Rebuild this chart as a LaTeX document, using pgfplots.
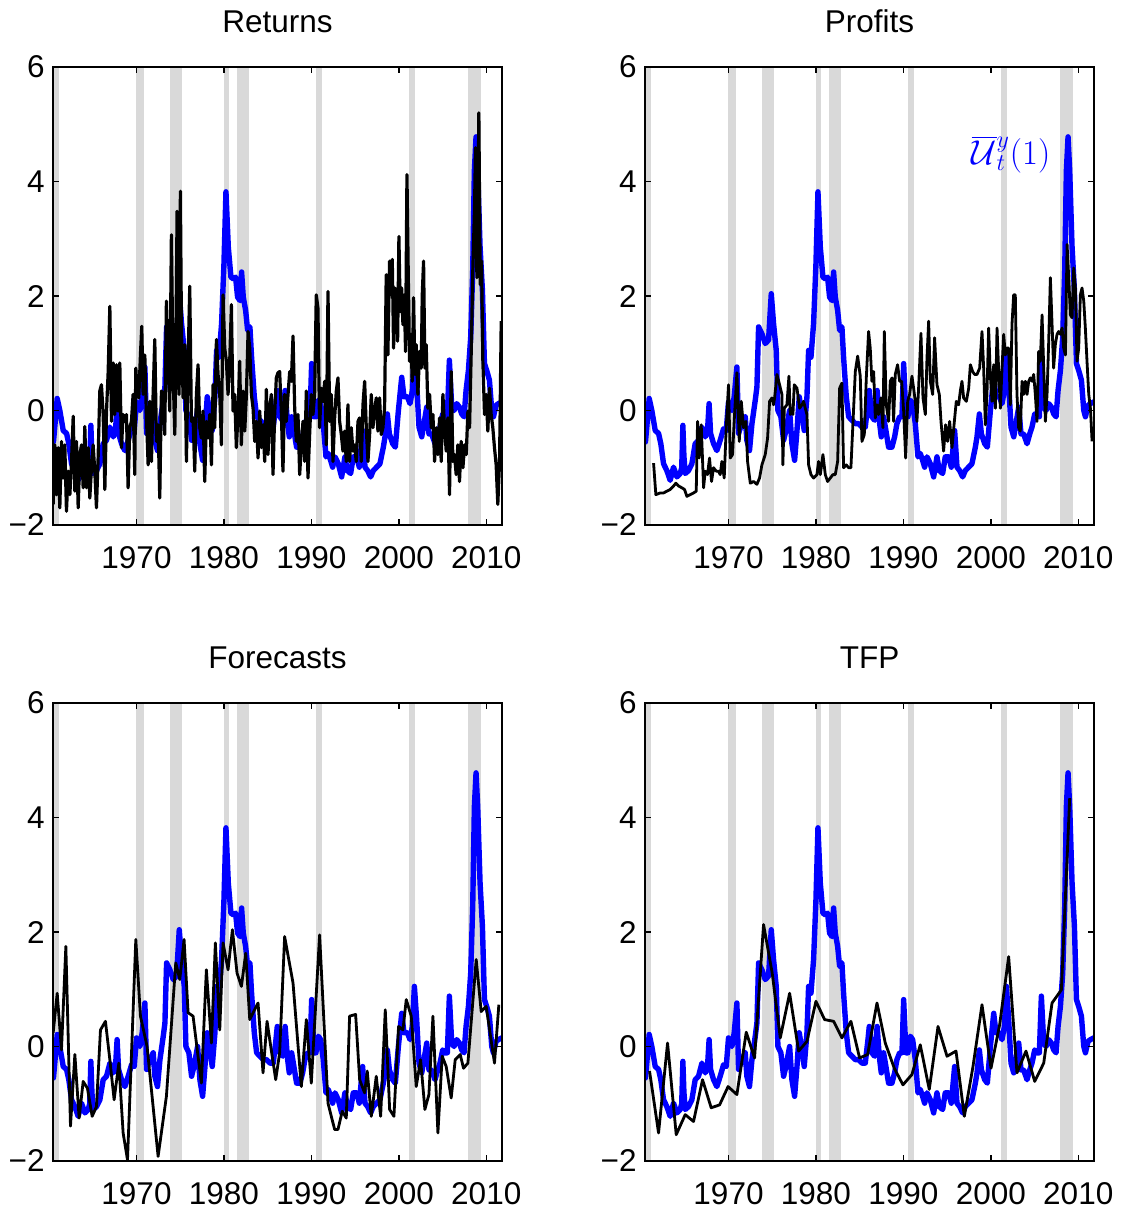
\documentclass[border=0pt]{standalone}
\usepackage{fontspec}
\setmainfont{Liberation Sans}
\usepackage{pgfplots}
\usepackage{pgfplotstable}
\pgfplotsset{compat=1.18}
\definecolor{bandgray}{RGB}{217,217,217}
\definecolor{ublue}{RGB}{0,0,255}

\pgfplotstableread{
x y
1960.50 -0.55
1960.59 -0.40
1960.93 0.21
1961.23 0.00
1961.62 -0.35
1962.00 -0.40
1962.26 -0.58
1962.57 -0.93
1962.95 -1.05
1963.33 -1.22
1963.71 -0.99
1964.10 -1.16
1964.48 -1.10
1964.65 -1.00
1964.78 -0.26
1964.90 -0.80
1965.05 -1.10
1965.43 -1.05
1965.81 -0.93
1966.19 -0.58
1966.57 -0.52
1966.96 -0.29
1967.34 -0.46
1967.60 -0.35
1967.78 0.12
1967.95 -0.40
1968.29 -0.58
1968.67 -0.70
1969.05 -0.52
1969.43 -0.32
1969.74 -0.35
1970.00 0.15
1970.39 0.00
1970.65 0.24
1970.96 0.76
1971.15 -0.40
1971.53 -0.23
1971.91 -0.11
1972.10 -0.52
1972.40 -0.70
1972.68 -0.23
1973.06 0.18
1973.25 0.41
1973.44 1.46
1973.82 1.34
1974.20 1.17
1974.58 1.23
1974.89 2.04
1975.15 1.52
1975.46 1.05
1975.65 0.00
1975.99 -0.11
1976.30 -0.52
1976.57 -0.35
1976.99 0.00
1977.25 -0.58
1977.56 -0.87
1977.83 -0.35
1978.09 0.24
1978.40 -0.06
1978.66 -0.35
1978.97 0.24
1979.16 1.05
1979.43 0.93
1979.73 1.52
1980.00 2.56
1980.23 3.82
1980.50 2.85
1980.80 2.33
1981.07 2.30
1981.33 2.33
1981.56 1.98
1981.83 1.92
1982.02 2.42
1982.21 1.98
1982.48 1.75
1982.71 1.40
1982.97 1.46
1983.16 0.93
1983.47 0.24
1983.74 -0.11
1984.12 -0.17
1984.50 -0.23
1984.88 -0.23
1985.26 -0.29
1985.64 -0.29
1985.95 0.12
1986.10 0.35
1986.40 -0.11
1986.70 -0.17
1987.00 0.35
1987.24 -0.17
1987.47 -0.46
1987.74 -0.11
1988.00 -0.35
1988.31 -0.64
1988.69 -0.64
1989.00 -0.46
1989.26 -0.23
1989.57 -0.11
1989.84 -0.11
1990.03 0.82
1990.29 -0.11
1990.52 -0.11
1990.79 0.18
1991.06 0.12
1991.36 -0.23
1991.67 -0.81
1991.93 -0.75
1992.20 -0.87
1992.43 -0.99
1992.70 -0.81
1993.08 -0.93
1993.46 -1.16
1993.84 -0.81
1994.11 -1.05
1994.49 -1.10
1994.79 -0.81
1995.18 -0.81
1995.48 -0.99
1995.86 -0.35
1996.13 -0.99
1996.43 -1.05
1996.78 -1.16
1997.08 -1.05
1997.46 -0.99
1997.84 -0.93
1998.23 -0.64
1998.42 -0.46
1998.69 -0.06
1998.92 -0.41
1999.30 -0.58
1999.60 -0.64
1999.95 0.00
2000.33 0.58
2000.59 0.24
2000.98 0.24
2001.28 0.12
2001.55 0.35
2001.78 1.05
2002.04 0.47
2002.31 -0.29
2002.62 -0.46
2002.88 -0.23
2003.19 0.06
2003.45 -0.41
2003.76 -0.41
2004.14 -0.58
2004.45 -0.41
2004.71 -0.29
2005.02 -0.06
2005.29 -0.11
2005.55 -0.11
2005.78 0.88
2006.05 0.06
2006.31 0.00
2006.62 0.12
2006.93 0.06
2007.19 -0.06
2007.46 -0.11
2007.69 0.35
2007.96 0.70
2008.22 1.28
2008.45 2.45
2008.64 4.19
2008.83 4.78
2009.02 4.19
2009.29 2.86
2009.56 2.10
2009.79 0.82
2010.05 0.70
2010.36 0.53
2010.63 0.00
2010.82 -0.11
2011.12 0.09
2011.39 0.12
2011.77 0.15
}\bluedata

\pgfplotstableread{
x y
1960.47 -1.64
1960.66 -0.60
1960.85 -1.47
1961.04 -0.65
1961.23 -1.70
1961.42 -0.54
1961.61 -1.18
1961.80 -0.60
1961.99 -1.76
1962.19 -1.06
1962.38 -1.47
1962.57 -0.89
1962.76 -0.10
1962.95 -1.41
1963.14 -0.54
1963.33 -1.70
1963.52 -0.77
1963.71 -0.60
1963.90 -1.35
1964.09 -0.28
1964.28 -1.35
1964.47 -0.65
1964.66 -1.53
1964.85 -1.00
1965.04 -0.60
1965.23 -1.06
1965.42 -1.70
1965.61 -0.83
1965.80 0.34
1965.99 0.45
1966.19 -0.07
1966.38 -1.38
1966.57 -0.01
1966.76 0.68
1966.95 1.82
1967.14 -0.19
1967.33 0.83
1967.52 -0.07
1967.71 0.80
1967.90 -0.01
1968.09 0.83
1968.28 -0.65
1968.47 -0.07
1968.66 -0.19
1968.85 -0.07
1969.04 -1.35
1969.23 -0.30
1969.42 -0.19
1969.61 0.28
1969.80 -1.12
1969.92 0.74
1970.07 0.34
1970.26 0.22
1970.45 0.97
1970.60 1.47
1970.76 0.28
1970.95 0.97
1971.14 -0.13
1971.33 -0.95
1971.52 0.16
1971.71 -0.89
1971.90 0.28
1972.09 1.24
1972.28 -0.54
1972.47 -0.25
1972.66 -1.53
1972.85 0.34
1973.04 0.28
1973.23 -0.42
1973.42 1.91
1973.61 0.86
1973.80 -0.01
1973.99 3.07
1974.18 0.68
1974.38 -0.42
1974.49 0.86
1974.64 3.48
1974.76 0.63
1974.87 0.28
1975.02 3.83
1975.14 1.38
1975.33 0.22
1975.52 1.15
1975.71 -0.89
1975.90 0.86
1976.09 2.17
1976.28 -0.19
1976.47 -0.13
1976.66 -1.06
1976.85 0.28
1977.04 0.80
1977.23 -0.30
1977.42 -0.48
1977.61 -0.01
1977.80 -1.24
1977.99 -0.19
1978.19 -0.48
1978.38 -0.07
1978.57 -0.95
1978.76 0.45
1978.95 -0.30
1979.14 1.24
1979.33 0.63
1979.52 0.28
1979.71 -0.60
1979.90 2.02
1980.09 1.09
1980.28 0.86
1980.47 0.28
1980.66 0.86
1980.85 1.85
1981.04 -0.01
1981.23 0.28
1981.42 -0.65
1981.61 -0.07
1981.80 0.86
1981.99 -0.60
1982.19 0.34
1982.38 -0.36
1982.57 0.28
1982.76 1.38
1982.95 1.09
1983.14 0.28
1983.33 0.04
1983.52 -0.54
1983.71 -0.19
1983.90 -0.83
1984.09 -0.01
1984.28 -0.65
1984.47 -0.25
1984.66 -0.89
1984.85 0.37
1985.04 -0.77
1985.23 0.04
1985.42 0.28
1985.61 -1.12
1985.80 -0.07
1985.99 0.57
1986.18 0.66
1986.37 0.68
1986.56 -0.01
1986.75 -1.06
1986.94 0.28
1987.13 -0.19
1987.33 0.28
1987.52 0.68
1987.71 0.51
1987.90 1.30
1988.09 0.04
1988.28 -0.54
1988.47 -0.07
1988.66 -1.12
1988.85 -0.60
1989.04 -0.19
1989.23 -0.89
1989.42 0.34
1989.61 -1.18
1989.80 -0.42
1989.99 0.28
1990.18 -0.07
1990.37 0.28
1990.56 2.02
1990.75 1.79
1990.94 -0.30
1991.13 0.39
1991.33 0.16
1991.52 0.51
1991.71 -0.60
1991.90 2.08
1992.09 -0.19
1992.28 0.28
1992.47 -0.89
1992.66 -0.13
1992.85 0.34
1993.04 0.57
1993.23 -0.19
1993.42 -0.42
1993.61 -0.71
1993.80 -0.36
1993.99 -0.89
1994.18 0.10
1994.37 -0.89
1994.56 -0.30
1994.75 -0.71
1994.94 -0.60
1995.13 -0.89
1995.33 -0.19
1995.52 -0.13
1995.71 -0.89
1995.90 0.10
1996.09 0.51
1996.28 -0.30
1996.47 -0.89
1996.66 -0.42
1996.85 0.28
1997.04 -0.30
1997.23 -0.01
1997.42 0.22
1997.61 -0.36
1997.80 0.22
1997.99 -0.42
1998.18 -0.30
1998.37 0.04
1998.56 2.37
1998.75 0.97
1998.94 2.61
1999.13 2.02
1999.25 2.64
1999.40 1.09
1999.55 2.14
1999.71 1.85
1999.86 1.21
2000.01 3.04
2000.16 1.73
2000.32 2.14
2000.47 1.50
2000.62 2.02
2000.77 1.03
2000.93 4.12
2001.08 2.37
2001.23 0.86
2001.38 1.33
2001.53 0.51
2001.69 1.97
2001.84 0.63
2001.99 1.15
2002.18 0.28
2002.37 1.03
2002.56 0.74
2002.68 2.02
2002.83 2.61
2002.98 0.74
2003.13 1.15
2003.32 0.04
2003.52 0.28
2003.71 -0.30
2003.90 -0.07
2004.09 -0.89
2004.28 -0.30
2004.47 -0.77
2004.66 -0.13
2004.85 -0.89
2005.04 0.28
2005.23 -0.30
2005.42 -0.71
2005.61 -0.13
2005.80 -1.47
2005.99 0.68
2006.18 -0.89
2006.37 -0.77
2006.56 -1.12
2006.75 -0.60
2006.94 -1.24
2007.13 -0.54
2007.33 -1.00
2007.52 -0.60
2007.71 -0.77
2007.90 -0.01
2008.09 -0.30
2008.28 1.03
2008.47 2.49
2008.66 3.54
2008.77 4.59
2008.93 2.32
2009.04 3.19
2009.15 5.20
2009.31 2.20
2009.46 2.61
2009.61 0.86
2009.80 -0.07
2009.99 0.28
2010.18 -0.36
2010.37 0.39
2010.56 -0.07
2010.75 -0.30
2010.94 -0.65
2011.13 -0.95
2011.32 -1.64
2011.52 -0.89
2011.71 1.56
}\returnsdata

\pgfplotstableread{
x y
1961.43 -0.92
1961.69 -1.47
1962.19 -1.44
1962.57 -1.44
1962.95 -1.41
1963.33 -1.38
1963.71 -1.32
1963.98 -1.27
1964.29 -1.32
1964.67 -1.35
1964.97 -1.38
1965.24 -1.50
1965.62 -1.47
1966.00 -1.44
1966.31 -1.41
1966.46 -0.19
1966.65 -0.83
1966.88 -0.25
1967.15 -1.35
1967.34 -1.06
1967.60 -1.12
1967.83 -0.83
1968.06 -1.24
1968.29 -1.00
1968.60 -1.06
1968.86 -1.06
1969.05 -1.12
1969.24 -0.89
1969.51 -1.18
1969.74 -0.30
1970.00 0.45
1970.20 -0.83
1970.46 -0.77
1970.69 -0.07
1970.96 0.66
1971.23 -0.54
1971.46 0.16
1971.72 -0.30
1971.99 -0.19
1972.18 -0.89
1972.49 -1.27
1972.87 -1.24
1973.25 -1.29
1973.55 -1.18
1973.82 -0.95
1974.20 -0.77
1974.47 -0.48
1974.70 0.16
1974.97 0.22
1975.15 0.10
1975.27 0.22
1975.54 0.63
1975.84 0.45
1976.11 0.28
1976.22 -0.95
1976.38 0.04
1976.68 0.10
1976.91 0.60
1977.06 -0.07
1977.25 0.04
1977.37 -0.07
1977.52 0.45
1977.83 0.39
1978.13 0.04
1978.40 0.10
1978.59 0.16
1978.78 0.04
1978.97 -0.07
1979.16 -0.95
1979.43 -1.12
1979.73 -1.18
1980.11 -1.12
1980.30 -0.89
1980.50 -1.12
1980.80 -0.77
1981.07 -1.12
1981.33 -1.24
1981.64 -1.18
1981.94 -1.12
1982.21 -1.12
1982.48 -0.89
1982.71 0.39
1982.97 0.48
1983.16 -1.00
1983.47 -0.95
1983.74 -1.00
1984.00 -1.00
1984.31 0.04
1984.50 0.68
1984.77 0.95
1985.07 0.60
1985.26 -0.54
1985.53 -0.42
1985.76 0.57
1986.02 1.38
1986.21 1.09
1986.40 0.51
1986.60 0.68
1986.79 -0.13
1986.98 0.10
1987.17 -0.07
1987.43 0.22
1987.66 -0.30
1987.82 1.38
1988.04 0.10
1988.31 -0.19
1988.50 0.51
1988.70 0.57
1988.88 -0.19
1989.07 0.63
1989.34 0.80
1989.57 0.51
1989.80 0.51
1990.03 -0.01
1990.26 -0.83
1990.49 0.16
1990.71 0.28
1990.98 0.60
1991.17 0.39
1991.36 0.16
1991.55 -0.19
1991.74 0.39
1992.01 1.35
1992.24 0.22
1992.51 -0.07
1992.70 0.92
1992.89 1.56
1993.08 0.51
1993.35 0.28
1993.57 1.27
1993.84 0.45
1994.11 0.28
1994.30 -0.19
1994.60 -0.71
1994.83 -0.25
1995.06 -0.54
1995.29 -0.19
1995.56 -0.65
1995.83 -0.19
1996.05 0.16
1996.32 0.10
1996.51 0.34
1996.70 0.51
1996.89 0.22
1997.20 0.16
1997.47 0.39
1997.66 0.80
1997.92 0.68
1998.15 0.63
1998.42 0.63
1998.72 0.74
1998.99 1.38
1999.18 0.74
1999.37 -0.25
1999.56 0.28
1999.75 1.44
1999.94 0.63
2000.13 0.16
2000.33 0.80
2000.52 0.04
2000.71 1.44
2000.90 0.68
2001.09 0.04
2001.28 0.74
2001.47 1.33
2001.66 0.97
2001.85 1.09
2002.04 1.09
2002.23 0.10
2002.42 1.50
2002.61 2.02
2002.80 2.02
2002.99 0.28
2003.18 -0.30
2003.37 -0.36
2003.57 0.51
2003.76 0.28
2003.95 0.51
2004.14 0.28
2004.33 0.51
2004.52 0.57
2004.71 0.51
2004.90 0.63
2005.09 0.28
2005.28 -0.19
2005.47 1.03
2005.66 0.86
2005.86 1.67
2006.05 0.74
2006.24 -0.19
2006.43 0.28
2006.62 1.21
2006.81 2.32
2006.99 1.56
2007.18 0.74
2007.38 1.15
2007.57 1.33
2007.76 1.38
2007.95 1.33
2008.15 1.44
2008.33 1.09
2008.53 0.97
2008.72 2.90
2008.91 2.32
2009.10 1.67
2009.29 1.62
2009.48 2.49
2009.67 2.14
2009.86 0.86
2010.05 1.09
2010.24 2.02
2010.43 2.14
2010.63 1.91
2010.81 1.44
2011.00 0.86
2011.20 0.28
2011.39 0.04
2011.58 -0.54
}\profitsdata

\pgfplotstableread{
x y
1960.47 0.24
1960.93 0.93
1961.42 -0.06
1961.92 1.75
1962.45 -1.39
1962.95 -0.14
1963.44 -1.25
1963.90 -0.61
1964.39 -0.73
1964.93 -1.22
1965.42 -1.05
1965.88 0.29
1966.45 0.44
1966.95 -0.23
1967.44 -0.93
1967.98 -0.29
1968.47 -1.51
1968.97 -1.98
1969.92 1.87
1970.45 0.53
1971.21 0.00
1972.47 -1.92
1973.42 -0.87
1974.49 1.46
1974.95 1.17
1975.44 1.87
1975.90 0.59
1976.47 0.53
1977.42 -0.64
1977.99 1.34
1978.57 0.06
1979.02 1.81
1979.52 0.29
1979.90 1.81
1980.47 1.34
1980.97 2.04
1981.50 1.28
1982.00 1.05
1982.49 1.63
1982.95 0.47
1983.90 0.76
1984.47 -0.46
1984.93 0.44
1985.45 -0.10
1985.92 -0.58
1986.37 -0.11
1986.94 1.92
1987.90 1.11
1988.85 -0.70
1989.42 0.47
1989.99 -0.64
1990.94 1.95
1991.90 -0.99
1992.66 -1.45
1993.04 -1.45
1993.53 -1.13
1993.99 -1.25
1994.37 0.53
1995.06 0.56
1995.52 -0.58
1996.09 -0.81
1996.39 -0.43
1996.85 -1.22
1997.42 -0.52
1997.92 -1.22
1998.45 0.64
1998.95 -1.10
1999.44 -1.22
1999.97 0.35
2000.47 0.29
2000.85 0.82
2001.42 0.53
2001.99 -0.70
2002.49 -0.23
2002.98 -1.10
2003.44 -0.84
2003.90 0.53
2004.47 -1.51
2004.96 -0.17
2005.42 -0.35
2005.99 -0.90
2006.45 -0.23
2007.02 -0.14
2007.40 -0.38
2007.90 -0.29
2008.85 1.52
2009.42 0.61
2009.99 0.70
2010.94 -0.29
2011.44 0.73
}\forecastdata

\pgfplotstableread{
x y
1960.97 -0.43
1962.00 -1.51
1963.03 0.06
1964.02 -1.54
1965.05 -1.19
1966.00 -1.31
1967.03 -0.58
1968.02 -1.07
1968.98 -1.02
1969.95 -0.70
1970.96 -0.84
1972.03 0.25
1972.98 -0.20
1974.01 2.13
1975.00 1.28
1975.92 0.15
1976.99 0.93
1978.02 -0.08
1978.97 0.09
1980.00 0.79
1980.99 0.47
1982.02 0.44
1982.97 0.15
1984.00 0.44
1984.99 -0.20
1985.91 -0.14
1986.98 0.76
1987.93 0.06
1988.96 -0.38
1989.95 -0.67
1990.98 -0.49
1991.93 0.03
1992.96 -0.75
1993.96 0.35
1994.99 -0.17
1996.02 -0.08
1996.97 -1.22
1997.96 -0.35
1998.99 0.73
2000.02 -0.38
2001.01 0.38
2002.04 1.57
2002.99 -0.46
2004.02 -0.08
2005.02 -0.61
2006.05 -0.29
2007.00 0.76
2008.07 0.99
2009.02 4.34
}\tfpdata

\newcommand{\band}[2]{\addplot[draw=none, fill=bandgray, forget plot] coordinates {(#1,-2) (#1,6) (#2,6) (#2,-2)} -- cycle;}
\newcommand{\allbands}{%
\band{1960.25}{1961.08}
\band{1969.92}{1970.85}
\band{1973.83}{1975.17}
\band{1980.00}{1980.55}
\band{1981.50}{1982.88}
\band{1990.55}{1991.20}
\band{2001.17}{2001.85}
\band{2007.92}{2009.42}
}

\pgfplotsset{
  panel/.style={
    anchor=south west,
    width=224.5pt, height=229pt, scale only axis,
    xmin=1960.45, xmax=2011.8, ymin=-2, ymax=6,
    xtick={1970,1980,1990,2000,2010},
    xticklabels={1970,1980,1990,2000,2010},
    ytick={-2,0,2,4,6},
    yticklabels={−2,0,2,4,6},
    tick align=inside, major tick length=3pt,
    minor tick num=0,
    font=\fontsize{15.75}{18}\selectfont,
    axis line style={line width=0.9pt},
    every tick/.style={black, line width=0.7pt},
    xticklabel style={anchor=base, yshift=-22pt, inner sep=0pt},
    yticklabel style={anchor=east, inner sep=0pt, xshift=-4pt},
    title style={anchor=base, at={(0.5,1)}, yshift=11.5pt, inner sep=0pt, font=\fontsize{15.75}{18}\selectfont},
    axis on top,
  },
  blueline/.style={ublue, line width=2.7pt, line join=round, line cap=round, no markers},
  blackline/.style={black, line width=1.4pt, line join=round, no markers},
}

\begin{document}
\begin{tikzpicture}
\path[use as bounding box] (0,0) rectangle (560.5pt,606pt);

\begin{axis}[panel, at={(26.5pt,343.5pt)}, title={Returns}]
\allbands
\addplot[blueline] table[x=x,y=y] {\bluedata};
\addplot[blackline, line width=1.6pt] table[x=x,y=y] {\returnsdata};
\end{axis}

\begin{axis}[panel, at={(322.5pt,343.5pt)}, title={Profits}]
\allbands
\addplot[blueline] table[x=x,y=y] {\bluedata};
\addplot[blackline] table[x=x,y=y] {\profitsdata};
\node[ublue, font=\fontsize{17}{20}\selectfont, inner sep=0pt] at (axis cs:2002.3,4.47) {$\overline{\mathcal{U}}{}^y_t(1)$};
\end{axis}

\begin{axis}[panel, at={(26.5pt,25.5pt)}, title={Forecasts}]
\allbands
\addplot[blueline] table[x=x,y=y] {\bluedata};
\addplot[blackline] table[x=x,y=y] {\forecastdata};
\end{axis}

\begin{axis}[panel, at={(322.5pt,25.5pt)}, title={TFP}]
\allbands
\addplot[blueline] table[x=x,y=y] {\bluedata};
\addplot[blackline] table[x=x,y=y] {\tfpdata};
\end{axis}
\end{tikzpicture}
\end{document}
